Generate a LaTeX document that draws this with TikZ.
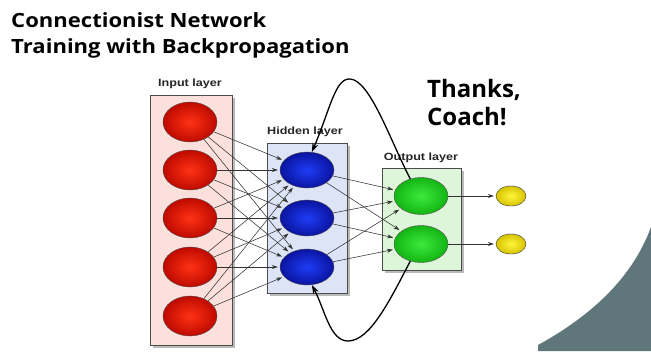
\documentclass[tikz,border=0pt]{standalone}
\usepackage{fontspec}
\newfontfamily\titlefont{Open Sans}
\newfontfamily\labfont{Liberation Sans}
\usetikzlibrary{shapes.geometric,arrows.meta,shadows}
\definecolor{slate}{HTML}{5F767B}
\tikzset{
  layerbox/.style={draw=black!70, line width=0.6pt, drop shadow={shadow xshift=2.5pt, shadow yshift=-2.5pt, fill=black!45, opacity=0.6}},
  layerlab/.style={font=\labfont\bfseries\fontsize{10.5}{12}\selectfont, xscale=1.2, text=black!85, inner sep=0pt},
  neuron/.style={ellipse, draw=black!70, line width=0.4pt, inner sep=0pt, shading=radial},
  redn/.style={neuron, minimum width=54pt, minimum height=40pt, inner color={rgb,255:red,255;green,50;blue,20}, outer color={rgb,255:red,190;green,10;blue,0}},
  bluen/.style={neuron, minimum width=54pt, minimum height=36pt, inner color={rgb,255:red,30;green,60;blue,245}, outer color={rgb,255:red,10;green,20;blue,160}},
  greenn/.style={neuron, minimum width=54pt, minimum height=37pt, inner color={rgb,255:red,60;green,235;blue,60}, outer color={rgb,255:red,20;green,180;blue,20}},
  yellown/.style={neuron, draw=black!80, minimum width=30pt, minimum height=20pt, inner color={rgb,255:red,255;green,245;blue,60}, outer color={rgb,255:red,215;green,195;blue,0}},
  conn/.style={draw=black!80, line width=0.55pt, -{Stealth[length=6pt,width=4pt]}, shorten >=2pt},
  loop/.style={draw=black, line width=1.3pt, -{Stealth[length=9pt,width=6pt]}},
  titletxt/.style={font=\titlefont\bfseries\fontsize{19.6}{22}\selectfont, xscale=1.125, inner sep=0pt, anchor=base west},
  thankstxt/.style={font=\titlefont\bfseries\fontsize{24}{27}\selectfont, inner sep=0pt, anchor=base west}
}
\begin{document}
\begin{tikzpicture}[x=1pt,y=-1pt]
\useasboundingbox (0,0) rectangle (651,351);
\fill[white] (0,0) rectangle (651,351);
% corner decoration
\fill[slate] (538,351) -- (538,345) .. controls (580,322) and (630,285) .. (651,227) -- (651,351) -- cycle;
% titles
\node[titletxt] (t1) at (11,27) {Connectionist Network};
\node[titletxt] (t2) at (11,53) {Training with Backpropagation};
\node[thankstxt] (th1) at (427,97) {Thanks,};
\node[thankstxt] (th2) at (427,125) {Coach!};
% layer boxes
\path[layerbox, fill={rgb,255:red,251;green,224;blue,220}] (150,95) rectangle (232,345);
\path[layerbox, fill={rgb,255:red,220;green,228;blue,246}] (267,143) rectangle (347,293);
\path[layerbox, fill={rgb,255:red,221;green,246;blue,217}] (382,168) rectangle (461,270);
\node[layerlab] (lin) at (190,84) {Input layer};
\node[layerlab] (lhid) at (305,132) {Hidden layer};
\node[layerlab] (lout) at (421,158) {Output layer};
% neurons
\foreach \i/\y in {1/122,2/170,3/218,4/267,5/316}
  \node[redn] (r\i) at (190,\y) {};
\foreach \i/\y in {1/170,2/218,3/267}
  \node[bluen] (b\i) at (307,\y) {};
\foreach \i/\y in {1/196,2/244}
  \node[greenn] (g\i) at (421,\y) {};
\foreach \i/\y in {1/196,2/244}
  \node[yellown] (y\i) at (511,\y) {};
% connections
\foreach \i in {1,...,5}
  \foreach \j in {1,2,3}
    \draw[conn] (r\i) -- (b\j);
\foreach \i in {1,2,3}
  \foreach \j in {1,2}
    \draw[conn] (b\i) -- (g\j);
\draw[conn] (g1) -- (y1);
\draw[conn] (g2) -- (y2);
% feedback loops
\draw[loop] (g1.122) .. controls (390,140) and (370,80) .. (350,79) .. controls (335,78) and (330,110) .. (b1.75);
\draw[loop] (g2.238) .. controls (390,300) and (370,341) .. (348,341) .. controls (330,341) and (325,310) .. (b3.285);
\end{tikzpicture}
\end{document}
